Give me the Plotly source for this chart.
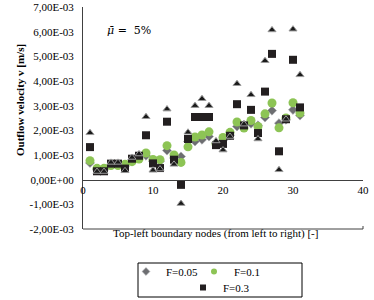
import plotly.graph_objects as go

nodes = list(range(1, 32))
# values in units of 1e-3 m/s
v_f005 = [0.68, 0.40, 0.40, 0.60, 0.60, 0.55, 0.80, 0.95, 0.97, 0.75, 0.75, 1.18, 0.88, 0.94, 1.55, 1.55,
          1.62, 1.75, 1.48, 1.60, 1.80, 2.16, 2.22, 2.27, 2.20, 2.52, 2.80, 2.29, 2.43, 2.83, 2.60]
v_f01 = [0.77, 0.46, 0.46, 0.57, 0.57, 0.62, 0.73, 0.84, 1.08, 0.82, 0.81, 1.38, 1.00, 0.70, 1.33, 1.73,
         1.81, 1.94, 1.45, 1.71, 1.92, 2.34, 2.09, 2.40, 2.16, 2.67, 3.11, 2.10, 2.50, 3.12, 2.70]
v_f03 = [1.32, 0.34, 0.34, 0.65, 0.65, 0.45, 0.85, 0.97, 1.80, 0.66, 0.47, 2.35, 0.81, -0.21, 1.65, 2.54,
         2.54, 2.54, 1.40, 1.45, 1.78, 3.06, 2.20, 2.83, 1.89, 3.57, 5.10, 1.15, 2.45, 4.86, 2.93]
v_f05 = [1.90, 0.33, 0.33, 0.70, 0.70, 0.36, 0.90, 1.04, 2.55, 0.38, 0.43, 2.86, 0.62, -0.97, 1.92, 3.00,
         3.28, 3.00, 1.57, 1.20, 1.75, 3.89, 2.25, 3.44, 1.65, 4.82, 6.07, 0.40, 2.45, 6.10, 4.25]

y_tickvals = [7e-3, 6e-3, 5e-3, 4e-3, 3e-3, 2e-3, 1e-3, 0.0, -1e-3, -2e-3]
y_ticktext = ["7,00E-03", "6,00E-03", "5,00E-03", "4,00E-03", "3,00E-03", "2,00E-03",
              "1,00E-03", "0,00E+00", "-1,00E-03", "-2,00E-03"]
x_tickvals = [0, 10, 20, 30, 40]

Y_MIN, Y_MAX = -2e-3, 7e-3
FONT = "Liberation Serif"

def scale(vals):
    return [v * 1e-3 for v in vals]

styles = {
    "F=0.05": dict(symbol="diamond", color="#6d6e71", line=dict(color="#a7a9ac", width=0.6)),
    "F=0.1": dict(symbol="circle", color="#8dc455", line=dict(width=0)),
    "F=0.3": dict(symbol="square", color="#231f20", line=dict(width=0)),
}

fig = go.Figure()
fig.add_trace(go.Scatter(x=nodes, y=scale(v_f005), mode="markers", showlegend=False,
                         marker=dict(size=7, **styles["F=0.05"])))
fig.add_trace(go.Scatter(x=nodes, y=scale(v_f01), mode="markers", showlegend=False,
                         marker=dict(size=9, **styles["F=0.1"])))
fig.add_trace(go.Scatter(x=nodes, y=scale(v_f03), mode="markers", showlegend=False,
                         marker=dict(size=8, **styles["F=0.3"])))
fig.add_trace(go.Scatter(x=nodes, y=scale(v_f05), mode="markers", showlegend=False,
                         marker=dict(symbol="triangle-up", size=7, color="#1a1a1a",
                                     line=dict(color="#9a9a9a", width=1))))

# legend entries (small symbols as in the original)
for name, lg in [("F=0.05", "legend"), ("F=0.1", "legend"), ("F=0.3", "legend2")]:
    fig.add_trace(go.Scatter(x=[None], y=[None], mode="markers", name=name, legend=lg,
                             marker=dict(size=6, **styles[name])))

W, H = 374, 300
PL, PR, PT, PB = 83, 363, 7, 229          # plot area in page pixels
ML, MR, MT, MB = PL, W - PR, PT, H - PB
pw, ph = W - ML - MR, H - MT - MB

def px_x(p):
    return (p - ML) / pw

def px_y(p):
    return (MT + ph - p) / ph

fig.update_layout(
    width=W, height=H,
    margin=dict(l=ML, r=MR, t=MT, b=MB, autoexpand=False),
    paper_bgcolor="white", plot_bgcolor="white",
    font=dict(family=FONT, size=11, color="black"),
    xaxis=dict(range=[0, 40], tickvals=x_tickvals, showgrid=False, zeroline=False,
               showline=True, linecolor="#404040", linewidth=1, ticks="", automargin=False,
               anchor="free", position=(0 - Y_MIN) / (Y_MAX - Y_MIN), ticklabeloverflow="allow",
               tickfont=dict(family=FONT, size=11, color="black")),
    yaxis=dict(range=[Y_MIN, Y_MAX], tickvals=y_tickvals, ticktext=y_ticktext,
               showgrid=False, zeroline=False, showline=True, linecolor="#404040",
               linewidth=1, ticks="", ticklabelstandoff=6, automargin=False,
               ticklabeloverflow="allow",
               tickfont=dict(family=FONT, size=11, color="black")),
    legend=dict(orientation="h", x=px_x(126), y=px_y(257), xanchor="left", yanchor="top",
                font=dict(family=FONT, size=11, color="black"), bgcolor="rgba(0,0,0,0)",
                itemwidth=30, entrywidth=23, entrywidthmode="pixels"),
    legend2=dict(orientation="h", x=px_x(183), y=px_y(273), xanchor="left", yanchor="top",
                 font=dict(family=FONT, size=11, color="black"), bgcolor="rgba(0,0,0,0)",
                 itemwidth=30),
    showlegend=True,
)

# legend frame and bottom frame line
fig.add_shape(type="rect", xref="paper", yref="paper", x0=px_x(138), x1=px_x(302),
              y0=px_y(297), y1=px_y(263), line=dict(color="black", width=1))
fig.add_shape(type="line", xref="paper", yref="paper", x0=0, x1=1, y0=0, y1=0,
              line=dict(color="#404040", width=1))
fig.add_shape(type="line", xref="paper", yref="paper", x0=1, x1=1, y0=0, y1=px_y(226),
              line=dict(color="#404040", width=1))

fig.add_annotation(xref="paper", yref="paper", x=px_x(12), y=px_y(100), text="<b>Outflow velocity v [m/s]</b>",
                   textangle=-90, showarrow=False, font=dict(family=FONT, size=11, color="black"))
fig.add_annotation(xref="paper", yref="paper", x=px_x(215), y=px_y(242),
                   text="Top-left boundary nodes (from left to right) [-]",
                   showarrow=False, font=dict(family=FONT, size=11, color="black"))
fig.add_annotation(xref="paper", yref="paper", x=px_x(105), y=px_y(22), xanchor="left",
                   text="<i>\u03bc\u0304</i> =  5%", showarrow=False,
                   font=dict(family="DejaVu Serif", size=11, color="black"))

# remove the default 8px page margin so the figure sits at the page origin
fig.write_html("out.html", config={"displayModeBar": False},
               post_script="document.body.style.margin='0';")
